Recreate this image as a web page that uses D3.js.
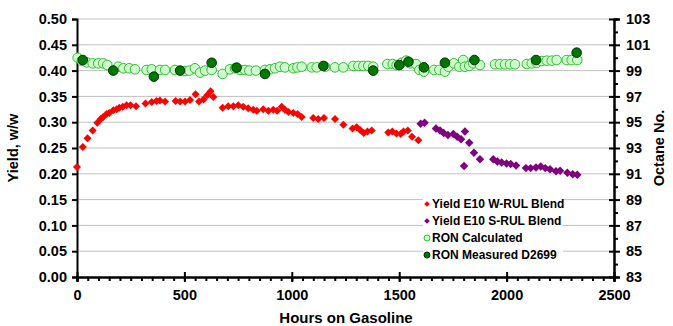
<!DOCTYPE html>
<html>
<head>
<meta charset="utf-8">
<script src="https://cdn.jsdelivr.net/npm/d3@7"></script>
<style>
  body { margin: 0; background: #fff; }
  text { font-family: Arial, "Liberation Sans", sans-serif; font-weight: bold; fill: #000; }
</style>
</head>
<body>
<script>
// Yield E10 W-RUL blend (left axis)
const redHours = [0, 27, 49, 73, 95, 110, 122, 138, 150, 169, 185, 197, 213, 231, 249, 275, 319, 348, 370, 386, 410, 459, 480, 503, 526, 552, 568, 589, 606, 622, 635, 678, 704, 728, 751, 774, 797, 821, 837, 867, 891, 914, 932, 953, 968, 984, 1007, 1027, 1046, 1100, 1123, 1150, 1201, 1240, 1283, 1302, 1318, 1335, 1352, 1372, 1449, 1468, 1487, 1507, 1520, 1540, 1560, 1589];
const redYield = [0.213, 0.252, 0.269, 0.284, 0.299, 0.306, 0.310, 0.316, 0.318, 0.323, 0.325, 0.328, 0.330, 0.333, 0.333, 0.331, 0.336, 0.339, 0.341, 0.342, 0.340, 0.341, 0.340, 0.340, 0.343, 0.354, 0.340, 0.344, 0.352, 0.360, 0.349, 0.328, 0.331, 0.331, 0.333, 0.330, 0.327, 0.324, 0.322, 0.325, 0.322, 0.324, 0.322, 0.330, 0.324, 0.320, 0.318, 0.316, 0.310, 0.308, 0.306, 0.308, 0.306, 0.295, 0.288, 0.290, 0.285, 0.279, 0.282, 0.284, 0.280, 0.282, 0.278, 0.277, 0.282, 0.284, 0.272, 0.265];

// Yield E10 S-RUL blend (left axis)
const purpleHours = [1600, 1618, 1671, 1690, 1707, 1727, 1752, 1770, 1788, 1802, 1806, 1826, 1848, 1876, 1938, 1957, 1977, 2000, 2019, 2044, 2090, 2112, 2137, 2159, 2180, 2202, 2230, 2249, 2283, 2308, 2329];
const purpleYield = [0.297, 0.299, 0.288, 0.284, 0.279, 0.275, 0.277, 0.272, 0.267, 0.215, 0.282, 0.260, 0.241, 0.228, 0.228, 0.224, 0.222, 0.220, 0.219, 0.216, 0.211, 0.211, 0.212, 0.214, 0.211, 0.209, 0.205, 0.206, 0.202, 0.199, 0.198];

// RON calculated (right axis)
const ronCalcHours = [3, 22, 45, 73, 99, 122, 141, 192, 216, 243, 270, 324, 348, 386, 410, 456, 503, 523, 549, 573, 596, 627, 678, 712, 736, 759, 782, 802, 833, 875, 898, 922, 945, 968, 1007, 1026, 1046, 1093, 1116, 1155, 1201, 1240, 1286, 1310, 1333, 1356, 1379, 1445, 1470, 1488, 1511, 1532, 1550, 1578, 1594, 1615, 1662, 1687, 1713, 1729, 1755, 1780, 1798, 1806, 1826, 1845, 1876, 1946, 1969, 1993, 2016, 2039, 2094, 2117, 2140, 2163, 2187, 2210, 2233, 2280, 2303, 2329];
const ronCalc = [100.0, 99.77, 99.64, 99.56, 99.56, 99.56, 99.43, 99.30, 99.18, 99.18, 99.10, 99.05, 99.10, 99.05, 99.05, 99.05, 98.97, 99.0, 99.18, 98.84, 99.0, 99.05, 98.74, 99.10, 99.18, 99.05, 99.05, 99.0, 99.0, 99.05, 99.10, 99.18, 99.30, 99.25, 99.18, 99.25, 99.30, 99.25, 99.25, 99.30, 99.25, 99.25, 99.36, 99.36, 99.36, 99.36, 99.30, 99.51, 99.51, 99.43, 99.61, 99.77, 99.56, 99.51, 99.05, 98.92, 99.05, 99.05, 98.92, 99.30, 99.56, 99.30, 99.82, 99.30, 99.36, 99.56, 99.43, 99.49, 99.49, 99.49, 99.49, 99.49, 99.51, 99.56, 99.61, 99.74, 99.77, 99.77, 99.82, 99.82, 99.82, 99.82];

// RON measured D2699 (right axis)
const ronMeasHours = [27, 169, 358, 480, 627, 743, 875, 1147, 1379, 1500, 1543, 1615, 1713, 1850, 2137, 2326];
const ronMeas = [99.82, 99.0, 98.53, 99.0, 99.61, 99.23, 98.74, 99.36, 99.0, 99.43, 99.69, 99.25, 99.61, 99.82, 99.82, 100.39];

const xTicks = [0, 500, 1000, 1500, 2000, 2500];
const yLeftTicks = [0, 0.05, 0.10, 0.15, 0.20, 0.25, 0.30, 0.35, 0.40, 0.45, 0.50];
const yRightTicks = [83, 85, 87, 89, 91, 93, 95, 97, 99, 101, 103];
const legendLabels = ["Yield E10 W-RUL Blend", "Yield E10 S-RUL Blend", "RON Calculated", "RON Measured D2699"];

const width = 673;
const height = 326;
const m = { left: 77, right: 614, top: 19, bottom: 277 };

const x = d3.scaleLinear().domain([0, 2500]).range([m.left, m.right]);
const yL = d3.scaleLinear().domain([0, 0.5]).range([m.bottom, m.top]);
const yR = d3.scaleLinear().domain([83, 103]).range([m.bottom, m.top]);

const svg = d3.select("body")
  .append("svg")
  .attr("width", width)
  .attr("height", height);

// gridlines
svg.append("g")
  .selectAll("line")
  .data(yLeftTicks.slice(1))
  .enter()
  .append("line")
  .attr("x1", m.left)
  .attr("x2", m.right)
  .attr("y1", d => yL(d))
  .attr("y2", d => yL(d))
  .attr("stroke", "#c0c0c0")
  .attr("stroke-width", 1);

const fmt2 = d3.format(".2f");

// left axis
const gL = svg.append("g")
  .attr("transform", `translate(${m.left},0)`)
  .call(d3.axisLeft(yL).tickValues(yLeftTicks).tickFormat(fmt2).tickSize(5).tickPadding(5));

// right axis - minor ticks every 1, major every 2
const gRm = svg.append("g")
  .attr("transform", `translate(${m.right},0)`)
  .call(d3.axisRight(yR).tickValues(d3.range(84, 103, 2)).tickFormat("").tickSize(4));
const gR = svg.append("g")
  .attr("transform", `translate(${m.right},0)`)
  .call(d3.axisRight(yR).tickValues(yRightTicks).tickSize(6).tickPadding(6));
gR.selectAll(".tick line").attr("x1", -5);

// bottom axis - minor ticks every 50
const gBm = svg.append("g")
  .attr("transform", `translate(0,${m.bottom})`)
  .call(d3.axisBottom(x).tickValues(d3.range(0, 2501, 50)).tickFormat("").tickSize(4));
const gB = svg.append("g")
  .attr("transform", `translate(0,${m.bottom})`)
  .call(d3.axisBottom(x).tickValues(xTicks).tickFormat(d3.format("d")).tickSize(5).tickPadding(8));
gB.selectAll(".tick line").attr("y1", -5);

[gL, gR, gRm, gB, gBm].forEach(g => {
  g.select(".domain").attr("stroke", "#000").attr("stroke-width", 2);
  g.selectAll(".tick line").attr("stroke", "#000").attr("stroke-width", 2);
  g.selectAll(".tick text")
    .attr("font-size", "14.5px")
    .attr("font-family", "Arial, 'Liberation Sans', sans-serif")
    .attr("font-weight", "bold")
    .attr("fill", "#000");
});

// axis titles
svg.append("text")
  .attr("transform", `translate(18,${(m.top + m.bottom) / 2}) rotate(-90)`)
  .attr("text-anchor", "middle")
  .attr("font-size", "14.5px")
  .text("Yield, w/w");

svg.append("text")
  .attr("transform", `translate(664,${(m.top + m.bottom) / 2}) rotate(-90)`)
  .attr("text-anchor", "middle")
  .attr("font-size", "14.5px")
  .text("Octane No.");

svg.append("text")
  .attr("x", 346)
  .attr("y", 323)
  .attr("text-anchor", "middle")
  .attr("font-size", "15px")
  .text("Hours on Gasoline");

const diamond = d3.symbol().type(d3.symbolSquare);

// RON calculated
svg.append("g")
  .selectAll("circle")
  .data(ronCalcHours.map((h, i) => [h, ronCalc[i]]))
  .enter()
  .append("circle")
  .attr("cx", d => x(d[0]))
  .attr("cy", d => yR(d[1]))
  .attr("r", 4.8)
  .attr("fill", "#ccffcc")
  .attr("stroke", "#33bb33")
  .attr("stroke-width", 1);

// W-RUL yield
svg.append("g")
  .selectAll("path")
  .data(redHours.map((h, i) => [h, redYield[i]]))
  .enter()
  .append("path")
  .attr("d", diamond.size(32)())
  .attr("transform", d => `translate(${x(d[0])},${yL(d[1])}) rotate(45)`)
  .attr("fill", "#ff0000");

// S-RUL yield
svg.append("g")
  .selectAll("path")
  .data(purpleHours.map((h, i) => [h, purpleYield[i]]))
  .enter()
  .append("path")
  .attr("d", diamond.size(36)())
  .attr("transform", d => `translate(${x(d[0])},${yL(d[1])}) rotate(45)`)
  .attr("fill", "#800080");

// RON measured
svg.append("g")
  .selectAll("circle")
  .data(ronMeasHours.map((h, i) => [h, ronMeas[i]]))
  .enter()
  .append("circle")
  .attr("cx", d => x(d[0]))
  .attr("cy", d => yR(d[1]))
  .attr("r", 4.8)
  .attr("fill", "#007700")
  .attr("stroke", "#003300")
  .attr("stroke-width", 1);

// legend
const lg = svg.append("g").attr("transform", "translate(423,196)");
lg.append("rect")
  .attr("width", 140)
  .attr("height", 66)
  .attr("fill", "#fff");

const rows = lg.selectAll("g")
  .data(legendLabels)
  .enter()
  .append("g")
  .attr("transform", (d, i) => `translate(4,${8 + i * 17})`);

rows.filter((d, i) => i === 0).append("path")
  .attr("d", diamond.size(16)())
  .attr("transform", "rotate(45)")
  .attr("fill", "#ff0000");
rows.filter((d, i) => i === 1).append("path")
  .attr("d", diamond.size(16)())
  .attr("transform", "rotate(45)")
  .attr("fill", "#800080");
rows.filter((d, i) => i === 2).append("circle")
  .attr("r", 3)
  .attr("fill", "#ccffcc")
  .attr("stroke", "#33bb33");
rows.filter((d, i) => i === 3).append("circle")
  .attr("r", 3)
  .attr("fill", "#007700")
  .attr("stroke", "#003300");

rows.append("text")
  .attr("x", 5)
  .attr("dy", "0.36em")
  .attr("font-size", "12px")
  .text(d => d);
</script>
</body>
</html>
